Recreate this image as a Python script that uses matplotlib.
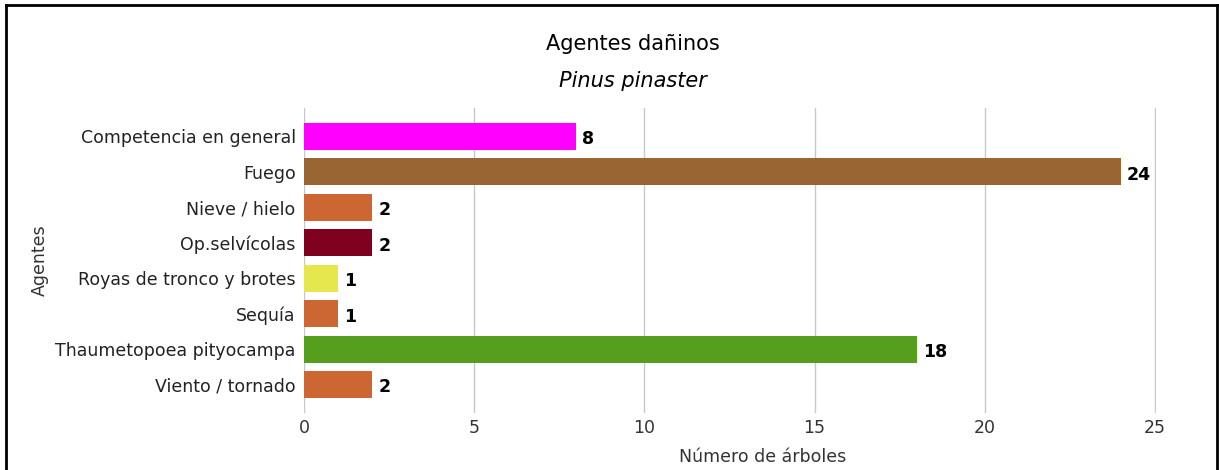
import matplotlib.pyplot as plt
from matplotlib.lines import Line2D

plt.rcParams['font.family'] = ['DejaVu Sans']

# Data
agentes = ['Competencia en general', 'Fuego', 'Nieve / hielo', 'Op.selvícolas',
           'Royas de tronco y brotes', 'Sequía', 'Thaumetopoea pityocampa',
           'Viento / tornado']
arboles = [8, 24, 2, 2, 1, 1, 18, 2]
colores = ['#FF00FF', '#996633', '#CC6633', '#800020',
           '#E6E64D', '#CC6633', '#559E1E', '#CC6633']
ticks_x = [0, 5, 10, 15, 20, 25]

fig = plt.figure(figsize=(12.19, 4.70), dpi=100)
ax = fig.add_axes([304 / 1219, 1 - 413 / 470, (1156 - 304) / 1219, (413 - 108) / 470])

pos = list(range(len(agentes)))
ax.barh(pos, arboles, height=0.77, color=colores, zorder=3)

for p, v in zip(pos, arboles):
    ax.text(v + 0.18, p + 0.08, str(v), va='center', ha='left',
            fontsize=12.5, fontweight='bold', color='black')

ax.set_xlim(0, 25.03)
ax.set_ylim(len(agentes) - 0.5 + 0.3, -0.5 - 0.3)
ax.set_xticks(ticks_x)
ax.set_yticks(pos)
ax.set_yticklabels(agentes, fontsize=12.5, color='#222222')
ax.tick_params(axis='x', labelsize=12.5, colors='#333333', length=0, pad=4)
ax.tick_params(axis='y', length=0, pad=6)
ax.grid(axis='x', color='#C8C8C8', linewidth=1, zorder=0)
for s in ax.spines.values():
    s.set_visible(False)

ax.set_xlabel('Número de árboles', fontsize=12.5, color='#333333')
ax.xaxis.set_label_coords((763 - 304) / 852, (413 - 448) / 305)
ax.set_ylabel('Agentes', fontsize=12.5, color='#333333')
ax.yaxis.set_label_coords((49 - 304) / 852, 0.5)

fig.text(633 / 1219, 1 - 44 / 470, 'Agentes dañinos', ha='center', va='center',
         fontsize=15, color='black')
fig.text(633 / 1219, 1 - 81 / 470, 'Pinus pinaster', ha='center', va='center',
         fontsize=15, style='italic', color='black')

# black frame around the chart (left, top, right)
fig.add_artist(Line2D([6 / 1219, 6 / 1219], [0, 1 - 5 / 470], color='black', linewidth=2,
                      transform=fig.transFigure))
fig.add_artist(Line2D([6 / 1219, 1217 / 1219], [1 - 5 / 470, 1 - 5 / 470], color='black',
                      linewidth=2, transform=fig.transFigure))
fig.add_artist(Line2D([1217 / 1219, 1217 / 1219], [0, 1 - 5 / 470], color='black', linewidth=2,
                      transform=fig.transFigure))

fig.savefig('out.png', dpi=100)
